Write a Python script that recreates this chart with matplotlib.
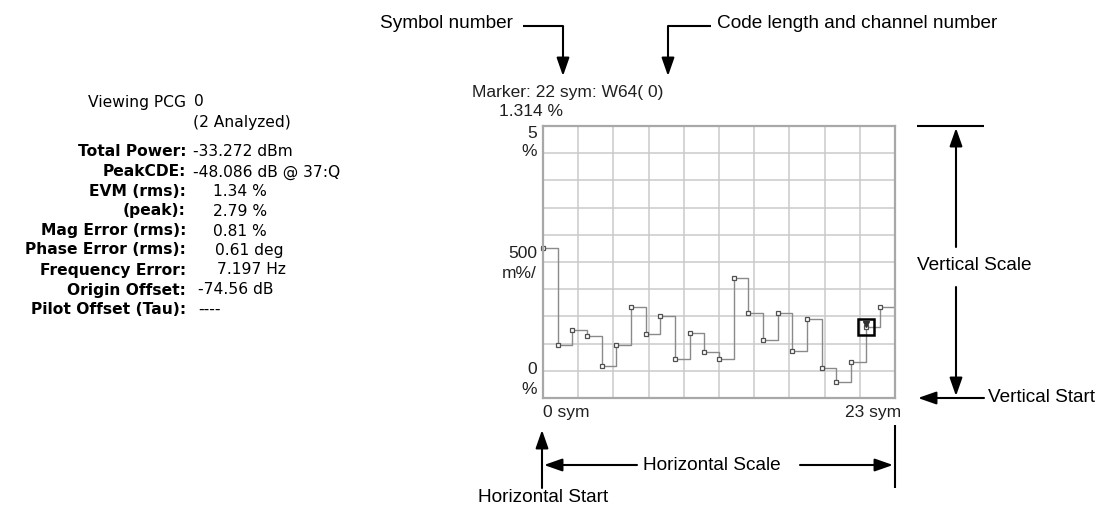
import numpy as np
import matplotlib.pyplot as plt

# EVM per symbol (%)
symbols = np.arange(24)
evm = [2.76, 0.98, 1.25, 1.14, 0.59, 0.98, 1.67, 1.17, 1.51, 0.72, 1.20, 0.85,
       0.72, 2.20, 1.57, 1.07, 1.57, 0.86, 1.46, 0.56, 0.30, 0.67, 1.314, 1.67]
marker_sym = 22

# left summary panel
labels = ['Total Power:', 'PeakCDE:', 'EVM (rms):', '(peak):', 'Mag Error (rms):',
          'Phase Error (rms):', 'Frequency Error:', 'Origin Offset:', 'Pilot Offset (Tau):']
values = ['-33.272 dBm', '-48.086 dB @ 37:Q', '1.34 %', '2.79 %', '0.81 %',
          '0.61 deg', '7.197 Hz', '-74.56 dB', '----']
value_x = [193, 193, 213, 213, 213, 215, 217, 198, 198]
row_y = [152, 172, 191, 211, 231, 250, 270, 290, 309]

fig = plt.figure(figsize=(11.1, 5.08), dpi=100)

# overlay in pixel coordinates for text and callouts
ov = fig.add_axes([0, 0, 1, 1])
ov.set_xlim(0, 1110)
ov.set_ylim(508, 0)
ov.axis('off')

pf = 'DejaVu Sans'
ov.text(186, 102, 'Viewing PCG', ha='right', va='center', fontsize=11.2, family=pf)
ov.text(194, 102, '0', ha='left', va='center', fontsize=11.2, family=pf)
ov.text(193, 123, '(2 Analyzed)', ha='left', va='center', fontsize=11.2, family=pf)
for lab, val, vx, y in zip(labels, values, value_x, row_y):
    ov.text(186, y, lab, ha='right', va='center', fontsize=11.2, family=pf, fontweight='bold')
    ov.text(vx, y, val, ha='left', va='center', fontsize=11.2, family=pf)

cf = 'Liberation Sans'
ov.text(472, 92, 'Marker: %d sym: W64( 0)' % marker_sym, ha='left', va='center', fontsize=12.5, family=cf, color='#202020')
ov.text(499, 111, '%.3f %%' % evm[marker_sym], ha='left', va='center', fontsize=12.5, family=cf, color='#202020')
for txt, y in [('5', 134), ('%', 151), ('500', 254), ('m%/', 273), ('0', 370), ('%', 389)]:
    ov.text(537, y, txt, ha='right', va='center', fontsize=12.5, family=cf, color='#202020')
ov.text(543, 413, '0 sym', ha='left', va='center', fontsize=12.5, family=cf, color='#202020')
ov.text(901, 413, '23 sym', ha='right', va='center', fontsize=12.5, family=cf, color='#202020')

# callouts
af = 'Liberation Sans'
afs = 13.7
ap = dict(arrowstyle='-|>,head_length=1.0,head_width=0.35', mutation_scale=11,
          lw=1.5, color='black', shrinkA=0, shrinkB=0)
lk = dict(color='black', lw=1.5, solid_capstyle='butt')

ov.text(380, 24, 'Symbol number', ha='left', va='center', fontsize=afs, family=af)
ov.plot([523, 563], [26, 26], **lk)
ov.annotate('', xy=(563, 76), xytext=(563, 26), arrowprops=ap)

ov.text(717, 24, 'Code length and channel number', ha='left', va='center', fontsize=afs, family=af)
ov.plot([668, 711], [26, 26], **lk)
ov.annotate('', xy=(668, 76), xytext=(668, 26), arrowprops=ap)

ov.plot([917, 984], [126, 126], **lk)
ov.annotate('', xy=(956, 128), xytext=(956, 247), arrowprops=ap)
ov.text(917, 265, 'Vertical Scale', ha='left', va='center', fontsize=afs, family=af)
ov.annotate('', xy=(956, 396), xytext=(956, 287), arrowprops=ap)
ov.annotate('', xy=(918, 398), xytext=(984, 398), arrowprops=ap)
ov.text(988, 397, 'Vertical Start', ha='left', va='center', fontsize=afs, family=af)

ov.annotate('', xy=(542, 430), xytext=(542, 488), arrowprops=ap)
ov.text(478, 497, 'Horizontal Start', ha='left', va='center', fontsize=afs, family=af)
ov.annotate('', xy=(544, 465), xytext=(637, 465), arrowprops=ap)
ov.text(643, 465, 'Horizontal Scale', ha='left', va='center', fontsize=afs, family=af)
ov.annotate('', xy=(893, 465), xytext=(800, 465), arrowprops=ap)
ov.plot([895, 895], [425, 488], **lk)

# trace plot
ax = fig.add_axes([543 / 1110, 1 - 398 / 508, 352 / 1110, 272 / 508])
ax.set_xlim(0, 24)
ax.set_ylim(0, 5)
ax.set_xticks(np.linspace(0, 24, 11))
ax.set_yticks(np.linspace(0, 5, 11))
ax.tick_params(length=0, labelbottom=False, labelleft=False)
ax.grid(True, color='#cacaca', lw=1.1)
ax.set_axisbelow(True)
for s in ax.spines.values():
    s.set_color('#a8a8a8')
    s.set_linewidth(1.6)

xs = np.append(symbols, symbols[-1] + 1)
ys = np.append(evm, evm[-1])
ax.step(xs, ys, where='post', color='#8a8a8a', lw=1)
ax.plot(symbols, evm, 's', ms=3, mfc='white', mec='#505050', mew=0.9, clip_on=False)
ax.plot(marker_sym, evm[marker_sym], 's', ms=12, mfc='none', mec='black', mew=1.8)
ax.plot(marker_sym, evm[marker_sym] + 0.05, 'v', ms=4.5, mfc='#303030', mec='#303030')

fig.savefig('out.png', dpi=100)
